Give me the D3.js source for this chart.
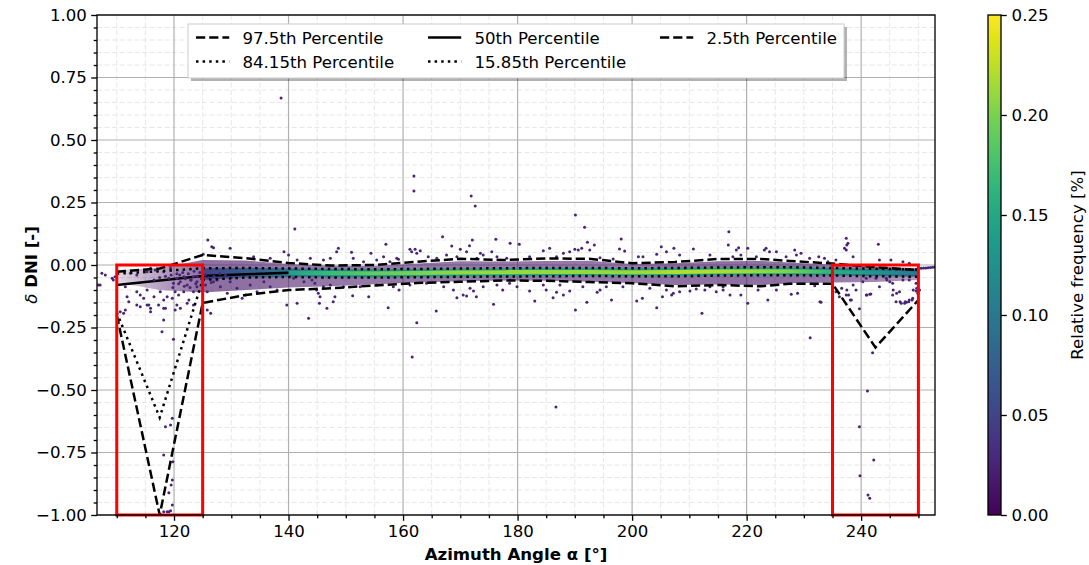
<!DOCTYPE html>
<html>
<head>
<meta charset="utf-8">
<script src="https://cdn.jsdelivr.net/npm/d3@7"></script>
<style>
  body { margin: 0; background: #fff; }
  svg { display: block; }
  text { font-family: "DejaVu Sans", sans-serif; }
</style>
</head>
<body>
<svg id="chart" width="1089" height="565"></svg>
<script>
// ---- Data -----------------------------------------------------------------
// Azimuth bins (deg) at which the percentile curves are evaluated
const azimuthBins = [110, 117.5, 125, 132.5, 140, 147.5, 155, 162.5, 170, 177.5,
                     185, 192.5, 200, 207.5, 215, 222.5, 227.5, 235, 242.5, 250];

// Percentiles of delta DNI per bin
const pct975  = [-0.027, -0.014, 0.040, 0.027, 0.008, -0.002, 0.000, 0.013, 0.025, 0.020,
                  0.026, 0.025, 0.007, 0.012, 0.024, 0.024, 0.016, 0.006, -0.009, -0.020];
const pct8415 = [-0.035, -0.025, -0.013, -0.012, -0.014, -0.016, -0.017, -0.016, -0.014, -0.013,
                 -0.012, -0.012, -0.013, -0.012, -0.010, -0.009, -0.009, -0.012, -0.015, -0.018];
const pct50   = [-0.080, -0.062, -0.044, -0.037, -0.031, -0.031, -0.032, -0.031, -0.029, -0.028,
                 -0.027, -0.027, -0.028, -0.027, -0.025, -0.024, -0.024, -0.027, -0.029, -0.031];
const pct1585 = [-0.190, -0.610, -0.060, -0.050, -0.048, -0.050, -0.050, -0.049, -0.047, -0.046,
                 -0.045, -0.044, -0.045, -0.045, -0.042, -0.041, -0.041, -0.042, -0.045, -0.047];
const pct25   = [-0.200, -1.000, -0.152, -0.120, -0.100, -0.093, -0.082, -0.072, -0.067, -0.062,
                 -0.063, -0.068, -0.073, -0.085, -0.080, -0.085, -0.075, -0.075, -0.330, -0.140];

// Extent of the dense point cloud around the median, and its relative frequency
const cloudTop    = [-0.020, -0.012, 0.020, 0.018, 0.004, -0.003, -0.004, 0.006, 0.015, 0.014,
                      0.016, 0.017, 0.004, 0.007, 0.015, 0.016, 0.010, 0.002, -0.006, -0.012];
const cloudBottom = [-0.070, -0.100, -0.110, -0.100, -0.090, -0.085, -0.077, -0.070, -0.065, -0.062,
                     -0.063, -0.067, -0.072, -0.080, -0.078, -0.080, -0.073, -0.070, -0.068, -0.060];
const cloudFreq   = [0.004, 0.010, 0.016, 0.016, 0.015, 0.015, 0.015, 0.015, 0.015, 0.015,
                     0.015, 0.015, 0.015, 0.016, 0.016, 0.016, 0.016, 0.015, 0.013, 0.011];

// Relative frequency [%] at the edge of the core band and at its peak
const edgeFreq = [0.02, 0.03, 0.05, 0.07, 0.09, 0.11, 0.12, 0.13, 0.14, 0.14,
                  0.14, 0.14, 0.14, 0.14, 0.14, 0.14, 0.13, 0.11, 0.09, 0.07];
const peakFreq = [0.03, 0.04, 0.07, 0.10, 0.14, 0.17, 0.19, 0.20, 0.21, 0.21,
                  0.21, 0.21, 0.21, 0.22, 0.22, 0.21, 0.20, 0.16, 0.13, 0.10];

// Individual measurements [azimuth, delta DNI] outside the dense core
const sparsePoints = [
  [125.9,0.1],[126.6,0.073],[126.9,0.069],[125.1,0.043],[129.8,0.067],[133.9,0.033],[136.8,0.027],
  [139.2,0.053],[141.1,0.144],[140.0,0.04],[141.5,0.02],[143.8,0.027],
  [107.4,-0.033],[108.0,-0.04],[107.1,-0.08],[109.2,-0.053],[112.4,-0.033],[113.5,-0.04],[115.3,-0.027],
  [115.9,-0.013],[116.7,-0.02],[118.2,-0.027],[119.4,-0.013],[109.4,-0.06],[109.7,-0.047],[106.8,-0.08],
  [111.5,-0.087],[111.8,-0.127],[112.1,-0.147],[113.5,-0.107],[114.1,-0.12],[114.7,-0.133],[115.3,-0.1],
  [115.6,-0.16],[115.9,-0.187],[116.5,-0.127],[117.3,-0.16],[117.6,-0.107],[118.2,-0.14],[118.8,-0.127],
  [118.5,-0.173],[119.7,-0.133],[120.2,-0.107],[120.8,-0.12],[121.7,-0.107],[122.6,-0.14],[123.4,-0.107],
  [124.0,-0.087],[121.1,-0.067],[122.3,-0.08],[122.9,-0.06],[123.4,-0.047],[124.0,-0.067],[120.5,-0.053],
  [121.7,-0.047],[119.9,-0.073],[119.1,-0.053],
  [121.5,-0.03],[122.5,-0.035],[123.5,-0.025],[124.5,-0.03],[121.0,-0.04],[122.0,-0.055],[123.0,-0.06],
  [124.0,-0.045],[124.8,-0.055],[120.5,-0.035],[119.5,-0.04],[118.5,-0.045],[117.5,-0.05],[116.5,-0.06],
  [125.5,-0.04],[126.0,-0.05],[127.0,-0.045],[128.0,-0.035],[129.0,-0.04],[130.0,-0.05],[127.5,-0.06],
  [126.5,-0.07],[125.5,-0.08],[123.8,-0.075],[122.8,-0.09],[121.8,-0.085],[120.8,-0.075],[119.8,-0.09],
  [125.8,-0.107],[126.9,-0.067],[128.1,-0.087],[129.3,-0.113],[129.8,-0.067],[131.0,-0.093],[131.9,-0.133],
  [132.5,-0.12],[133.3,-0.08],[134.5,-0.107],[135.7,-0.067],[136.8,-0.087],[138.0,-0.1],[139.7,-0.16],
  [141.5,-0.153],[143.5,-0.213],[140.9,-0.053],[142.7,-0.067],[144.1,-0.06],
  [110.6,-0.187],[111.2,-0.193],[111.5,-0.18],[113.5,-0.16],[114.1,-0.167],[115.3,-0.16],[115.9,-0.173],
  [120.5,-0.16],[121.1,-0.173],[120.2,-0.18],[118.2,-0.173],[118.2,-0.22],[117.9,-0.267],[119.9,-0.297],
  [125.8,-0.18],[126.4,-0.193],[122.3,-0.153],[123.4,-0.16],
  [119.7,-0.613],[118.5,-0.647],[119.4,-0.64],[118.2,-0.76],[119.8,-0.787],[119.7,-0.86],[119.5,-0.88],
  [119.1,-0.911],[119.7,-0.96],[118.8,-0.987],[118.2,-0.987],[119.1,-0.987],[119.4,-0.983],
  [148.7,0.067],[148.4,0.053],[151.0,0.051],[154.4,0.047],[157.0,0.083],[156.6,0.033],[158.9,0.027],
  [159.2,0.023],[161.2,0.063],[161.5,0.053],[162.1,0.063],[162.4,0.047],[163.0,0.057],[164.4,0.033],
  [166.9,0.113],[168.5,0.076],[170.0,0.063],[172.1,0.1],[171.6,0.077],[171.1,0.053],[174.0,0.04],
  [175.5,0.053],[176.2,0.103],[178.7,0.087],[180.3,0.083],[176.4,0.033],[178.1,0.027],[173.5,0.047],
  [147.3,0.027],[146.1,0.02],[151.3,0.027],[153.1,0.013],[155.4,0.02],[157.7,0.013],[165.9,0.027],
  [167.6,0.04],[169.4,0.033],[172.9,0.027],
  [144.9,-0.1],[145.2,-0.113],[145.5,-0.127],[145.4,-0.153],[146.7,-0.173],[148.1,-0.127],[147.8,-0.147],
  [151.2,-0.123],[154.0,-0.127],[157.4,-0.171],[159.3,-0.1],[162.4,-0.231],[165.8,-0.184],[169.4,-0.131],
  [170.5,-0.12],[171.1,-0.124],[172.8,-0.127],[172.3,-0.104],[175.8,-0.157],[177.4,-0.1],[178.6,-0.073],
  [179.9,-0.087],[144.6,-0.073],[146.1,-0.087],[147.3,-0.08],[149.6,-0.087],[152.5,-0.087],[155.4,-0.08],
  [158.3,-0.087],[161.2,-0.08],[164.1,-0.073],[167.1,-0.087],[168.8,-0.1],[171.7,-0.093],[174.0,-0.087],
  [176.4,-0.08],[178.7,-0.06],
  [190.1,0.2],[191.7,0.151],[198.1,0.104],[192.2,0.091],[190.0,0.063],[190.6,0.06],[191.2,0.067],
  [192.6,0.06],[193.4,0.08],[185.6,0.067],[184.5,0.057],[188.0,0.047],[189.1,0.053],[197.8,0.064],
  [198.7,0.056],[201.1,0.033],[201.9,0.033],[205.1,0.073],[206.0,0.053],[207.3,0.067],[210.7,0.064],
  [204.3,0.043],[208.3,0.04],[213.6,0.04],[216.9,0.133],[216.8,0.08],[218.2,0.06],[217.6,0.033],
  [182.1,0.033],[186.8,0.033],[194.4,0.029],[196.7,0.024],
  [182.1,-0.104],[183.0,-0.144],[185.0,-0.1],[186.2,-0.131],[186.8,-0.109],[188.0,-0.12],[189.1,-0.104],
  [190.1,-0.18],[192.1,-0.149],[193.9,-0.109],[194.4,-0.1],[196.4,-0.14],[200.8,-0.144],[201.8,-0.133],
  [204.3,-0.171],[205.3,-0.127],[206.9,-0.12],[207.2,-0.113],[208.3,-0.107],[210.1,-0.104],[212.2,-0.193],
  [212.7,-0.1],[214.7,-0.107],[215.9,-0.087],[217.1,-0.12],[184.5,-0.08],[187.4,-0.08],[191.4,-0.087],
  [195.5,-0.087],[198.4,-0.087],[203.1,-0.093],[206.0,-0.1],[211.2,-0.096],[213.6,-0.087],[215.9,-0.1],
  [218.6,0.069],[220.2,0.067],[223.1,0.06],[223.4,0.067],[224.0,0.053],[225.2,0.053],[228.4,0.06],
  [228.7,0.04],[229.5,0.047],[232.6,0.033],[233.6,0.027],[234.2,0.013],[235.6,0.02],[237.4,0.107],
  [237.7,0.087],[237.1,0.067],[237.4,0.06],[238.6,0.033],[243.0,0.083],[243.2,0.02],[245.2,0.02],
  [247.3,0.013],[248.4,0.007],[219.0,0.04],[221.7,0.033],[226.9,0.033],[231.0,0.027],[237.5,0.08],
  [219.0,-0.12],[220.2,-0.153],[222.0,-0.1],[223.7,-0.14],[225.2,-0.1],[227.8,-0.117],[228.9,-0.113],
  [231.9,-0.083],[233.0,-0.149],[235.6,-0.107],[236.2,-0.127],[237.4,-0.12],[238.3,-0.14],[239.1,-0.1],
  [240.9,-0.12],[241.5,-0.117],[238.6,-0.08],[240.3,-0.067],[243.2,-0.087],[245.0,-0.067],[245.5,-0.12],
  [246.1,-0.147],[246.7,-0.107],[247.0,-0.153],[247.6,-0.153],[247.9,-0.149],[248.4,-0.14],[249.0,-0.133],
  [249.6,-0.104],[249.9,-0.113],[250.2,-0.1],[249.6,-0.073],[248.4,-0.06],[245.5,-0.073],[244.4,-0.053],
  [247.3,-0.06],[242.6,-0.053],[240.9,-0.053],
  [237.5,-0.1],[237.8,-0.12],[238.1,-0.14],[236.6,-0.093],[239.7,-0.175],[241.0,-0.12],[241.7,-0.116],
  [245.6,-0.1],[246.2,-0.113],[246.8,-0.147],[247.7,-0.147],[248.3,-0.147],[248.9,-0.14],[249.1,-0.1],
  [249.7,-0.093],[244.5,-0.06],[232.8,-0.147],[231.1,-0.291],
  [250.5,-0.013],[250.9,-0.012],[251.3,-0.012],[251.7,-0.011],[252.1,-0.01],[252.5,-0.009],[252.9,-0.008]
];

// Far outliers [azimuth, delta DNI]
const outlierPoints = [
  [138.7,0.668],[161.9,0.356],[161.9,0.296],[171.9,0.276],[172.6,0.236],[161.6,-0.368],[186.7,-0.568],
  [241.1,-0.504],[239.7,-0.647],[242.2,-0.78],[239.8,-0.843],[241.2,-0.92],[241.5,-0.933],[242.0,-0.351]
];
const sparseFreq = 0.025;

// Highlighted azimuth windows [from, to] and their delta range
const highlightWindows = [[110, 125], [235, 250]];
const highlightDelta = [-1, 0];

// Axis ticks
const xTicks = [120, 140, 160, 180, 200, 220, 240];
const yTicks = [-1, -0.75, -0.5, -0.25, 0, 0.25, 0.5, 0.75, 1];
const cbarTicks = [0, 0.05, 0.10, 0.15, 0.20, 0.25];

// ---- Layout ---------------------------------------------------------------
const plot = { left: 97, right: 935, top: 15, bottom: 515 };
const cbar = { left: 988, width: 13 };
const FS = 16.6;          // 10 pt at this resolution
const PT = 1.66;          // pixels per point

const svg = d3.select("#chart");
const defs = svg.append("defs");

const x = d3.scaleLinear().domain([106.55, 252.9]).range([plot.left, plot.right]);
const y = d3.scaleLinear().domain([-1, 1]).range([plot.bottom, plot.top]);
const freqColor = d3.scaleSequential(d3.interpolateViridis).domain([0, 0.25]);

defs.append("clipPath").attr("id", "plot-clip")
  .append("rect")
  .attr("x", plot.left).attr("y", plot.top)
  .attr("width", plot.right - plot.left).attr("height", plot.bottom - plot.top);

// ---- Grid -----------------------------------------------------------------
const grid = svg.append("g");
const minorX = d3.range(110, 251, 5).filter(v => v % 20 !== 0);
const minorY = d3.range(-20, 21).filter(i => i % 5 !== 0).map(i => i * 0.05);

grid.selectAll(".gmx").data(minorX).join("line")
  .attr("x1", d => x(d)).attr("x2", d => x(d))
  .attr("y1", plot.top).attr("y2", plot.bottom)
  .attr("stroke", "#e4e4e4").attr("stroke-width", 0.9).attr("stroke-dasharray", "5,2.5");
grid.selectAll(".gmy").data(minorY).join("line")
  .attr("x1", plot.left).attr("x2", plot.right)
  .attr("y1", d => y(d)).attr("y2", d => y(d))
  .attr("stroke", "#e4e4e4").attr("stroke-width", 0.9).attr("stroke-dasharray", "5,2.5");
grid.selectAll(".gx").data(xTicks).join("line")
  .attr("x1", d => x(d)).attr("x2", d => x(d))
  .attr("y1", plot.top).attr("y2", plot.bottom)
  .attr("stroke", "#b0b0b0").attr("stroke-width", 1.2);
grid.selectAll(".gy").data(yTicks).join("line")
  .attr("x1", plot.left).attr("x2", plot.right)
  .attr("y1", d => y(d)).attr("y2", d => y(d))
  .attr("stroke", "#b0b0b0").attr("stroke-width", 1.2);

// ---- Density band ---------------------------------------------------------
const bins = azimuthBins.map((a, i) => ({
  az: a, p975: pct975[i], p8415: pct8415[i], p50: pct50[i], p1585: pct1585[i], p25: pct25[i],
  cTop: cloudTop[i], cBot: cloudBottom[i], cFreq: cloudFreq[i], eFreq: edgeFreq[i], pFreq: peakFreq[i]
}));

function xGradient(id, rows, colorOf, opacityOf) {
  const a0 = rows[0].az, a1 = rows[rows.length - 1].az;
  const g = defs.append("linearGradient").attr("id", id)
    .attr("gradientUnits", "userSpaceOnUse")
    .attr("x1", x(a0)).attr("x2", x(a1)).attr("y1", 0).attr("y2", 0);
  g.selectAll("stop").data(rows).join("stop")
    .attr("offset", d => (d.az - a0) / (a1 - a0))
    .attr("stop-color", colorOf)
    .attr("stop-opacity", opacityOf);
  return `url(#${id})`;
}

const band = svg.append("g").attr("clip-path", "url(#plot-clip)");

// Purple cloud of moderately frequent points
const cloudOpacity = d3.scaleLinear().domain([0, 0.016]).range([0, 0.62]);
band.append("path").datum(bins)
  .attr("d", d3.area().x(d => x(d.az)).y0(d => y(d.cBot)).y1(d => y(d.cTop)))
  .attr("fill", xGradient("cloud-grad", bins, d => freqColor(d.cFreq), d => cloudOpacity(d.cFreq)));

// Core between the 15.85th and 84.15th percentiles
const coreRows = bins.slice(2);
band.append("path").datum(coreRows)
  .attr("d", d3.area().x(d => x(d.az)).y0(d => y(d.p1585)).y1(d => y(d.p8415)))
  .attr("fill", xGradient("core-grad", coreRows, d => freqColor(d.eFreq), () => 1));

// ---- Percentile curves ----------------------------------------------------
const lineGen = key => d3.line().x(d => x(d.az)).y(d => y(d[key]));
const LW = 1.5 * PT;
band.append("path").datum(bins).attr("d", lineGen("p50"))
  .attr("fill", "none").attr("stroke", "#000").attr("stroke-width", LW);

// Peak-frequency streak around the median
const innerRows = bins.slice(4);
band.append("path").datum(innerRows)
  .attr("d", d3.area().x(d => x(d.az))
    .y0(d => y((d.p50 + d.p1585) / 2)).y1(d => y((d.p50 + d.p8415) / 2)))
  .attr("fill", xGradient("inner-grad", innerRows, d => freqColor(d.pFreq), () => 1));

// Scattered points
band.append("g").selectAll("circle").data(sparsePoints.concat(outlierPoints)).join("circle")
  .attr("cx", d => x(d[0])).attr("cy", d => y(d[1])).attr("r", 1.5)
  .attr("fill", freqColor(sparseFreq));

const dashStyle = { dash: `${3.7 * LW},${1.6 * LW}`, dot: `${LW},${1.65 * LW}`, solid: null };
const series = [
  { key: "p975",  label: "97.5th Percentile",  style: "dash" },
  { key: "p8415", label: "84.15th Percentile", style: "dot" },
  { key: "p50",   label: "50th Percentile",    style: "solid" },
  { key: "p1585", label: "15.85th Percentile", style: "dot" },
  { key: "p25",   label: "2.5th Percentile",   style: "dash" }
];
const upperLayer = band.append("g");
series.filter(s => s.style !== "solid").forEach(s => {
  upperLayer.append("path").datum(bins).attr("d", lineGen(s.key))
    .attr("fill", "none").attr("stroke", "#000").attr("stroke-width", LW)
    .attr("stroke-dasharray", dashStyle[s.style]);
});

// ---- Highlighted windows --------------------------------------------------
svg.append("g").selectAll("rect").data(highlightWindows).join("rect")
  .attr("x", d => x(d[0])).attr("width", d => x(d[1]) - x(d[0]))
  .attr("y", y(highlightDelta[1])).attr("height", y(highlightDelta[0]) - y(highlightDelta[1]))
  .attr("fill", "none").attr("stroke", "#ff0000").attr("stroke-width", 3);

// ---- Axes -----------------------------------------------------------------
function styleAxis(g) {
  g.select(".domain").remove();
  g.selectAll(".tick line").attr("stroke", "#000").attr("stroke-width", 0.8 * PT);
  g.selectAll(".tick text").attr("font-size", FS).attr("fill", "#000")
    .attr("font-family", "DejaVu Sans, sans-serif");
}
const fmtX = d3.format("d");
const fmtY = d3.format(".2f");
const majorLen = 3.5 * PT, minorLen = 2 * PT, pad = 3.5 * PT;

svg.append("g").attr("transform", `translate(0,${plot.bottom})`)
  .call(d3.axisBottom(x).tickValues(minorX).tickSize(minorLen).tickFormat(""))
  .call(styleAxis);
svg.append("g").attr("transform", `translate(0,${plot.bottom})`)
  .call(d3.axisBottom(x).tickValues(xTicks).tickSize(majorLen).tickPadding(pad - 1).tickFormat(fmtX))
  .call(styleAxis);
svg.append("g").attr("transform", `translate(${plot.left},0)`)
  .call(d3.axisLeft(y).tickValues(minorY).tickSize(minorLen).tickFormat(""))
  .call(styleAxis);
svg.append("g").attr("transform", `translate(${plot.left},0)`)
  .call(d3.axisLeft(y).tickValues(yTicks).tickSize(majorLen).tickPadding(pad - 1.5).tickFormat(fmtY))
  .call(styleAxis);

// Frame
svg.append("rect")
  .attr("x", plot.left).attr("y", plot.top)
  .attr("width", plot.right - plot.left).attr("height", plot.bottom - plot.top)
  .attr("fill", "none").attr("stroke", "#000").attr("stroke-width", 0.8 * PT);

// Axis titles
svg.append("text")
  .attr("x", (plot.left + plot.right) / 2).attr("y", 560)
  .attr("text-anchor", "middle").attr("font-size", FS).attr("font-weight", "bold")
  .text("Azimuth Angle α [°]");

const yTitle = svg.append("text")
  .attr("transform", `translate(37,${(plot.top + plot.bottom) / 2}) rotate(-90)`)
  .attr("text-anchor", "middle").attr("font-size", FS);
yTitle.append("tspan").attr("font-style", "italic").text("δ");
yTitle.append("tspan").attr("font-weight", "bold").text(" DNI [-]");

// ---- Legend ---------------------------------------------------------------
const legend = { x: 188, y: 24, w: 656, h: 54 };
const lg = svg.append("g");
lg.append("rect").attr("x", legend.x + 3).attr("y", legend.y + 3)
  .attr("width", legend.w).attr("height", legend.h).attr("fill", "#000").attr("opacity", 0.3);
lg.append("rect").attr("x", legend.x).attr("y", legend.y)
  .attr("width", legend.w).attr("height", legend.h)
  .attr("fill", "#fff").attr("stroke", "#cccccc").attr("stroke-width", 1);
const colX = [196, 428, 660];
const rowY = [37.5, 61.5];
series.forEach((s, i) => {
  const col = Math.floor(i / 2), row = i % 2;
  const lx = colX[col], ly = rowY[row];
  lg.append("line").attr("x1", lx).attr("x2", lx + 2 * FS).attr("y1", ly).attr("y2", ly)
    .attr("stroke", "#000").attr("stroke-width", LW)
    .attr("stroke-dasharray", dashStyle[s.style]);
  lg.append("text").attr("x", lx + 2.8 * FS).attr("y", ly + 6)
    .attr("font-size", FS).text(s.label);
});

// ---- Colorbar -------------------------------------------------------------
const cy = d3.scaleLinear().domain([0, 0.25]).range([plot.bottom, plot.top]);
const cgrad = defs.append("linearGradient").attr("id", "cbar-grad")
  .attr("x1", 0).attr("x2", 0).attr("y1", 1).attr("y2", 0);
cgrad.selectAll("stop").data(d3.range(0, 1.0001, 0.05)).join("stop")
  .attr("offset", d => d).attr("stop-color", d => d3.interpolateViridis(d));
svg.append("rect").attr("x", cbar.left).attr("y", plot.top)
  .attr("width", cbar.width).attr("height", plot.bottom - plot.top)
  .attr("fill", "url(#cbar-grad)").attr("stroke", "#000").attr("stroke-width", 0.8 * PT);
svg.append("g").attr("transform", `translate(${cbar.left + cbar.width},0)`)
  .call(d3.axisRight(cy).tickValues(cbarTicks).tickSize(majorLen).tickPadding(pad - 1).tickFormat(fmtY))
  .call(styleAxis);
svg.append("text")
  .attr("transform", `translate(1083,${(plot.top + plot.bottom) / 2}) rotate(-90)`)
  .attr("text-anchor", "middle").attr("font-size", FS)
  .text("Relative frequency [%]");
</script>
</body>
</html>
